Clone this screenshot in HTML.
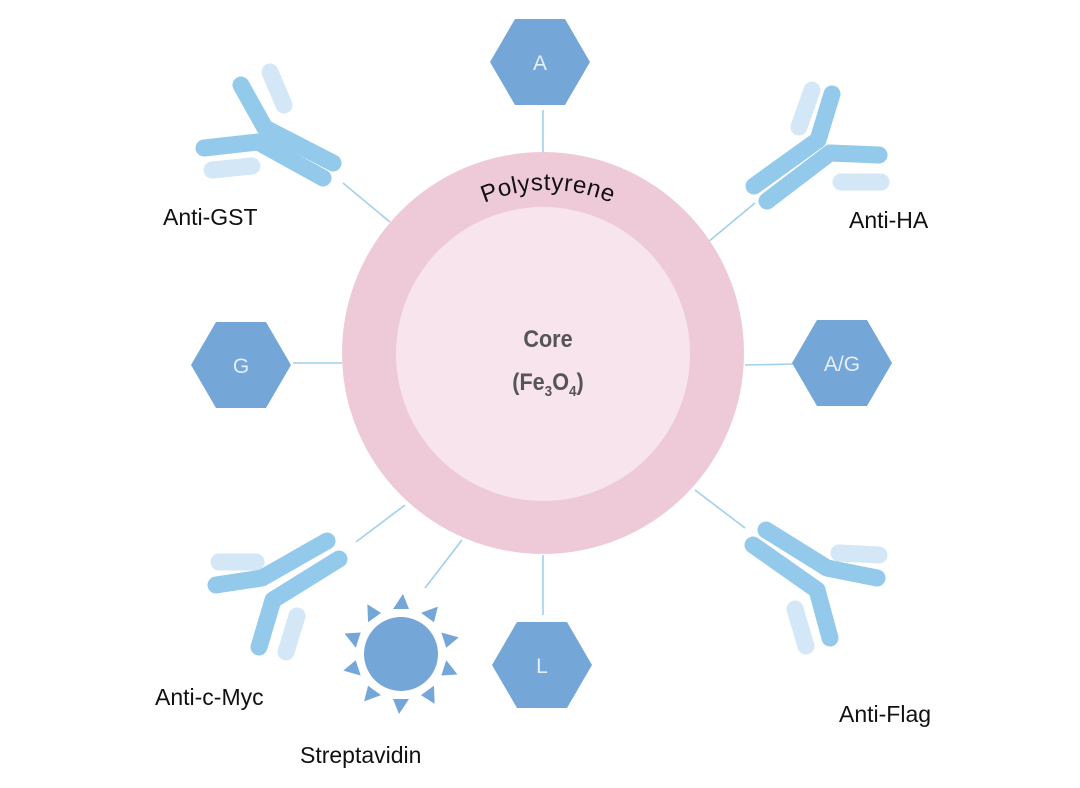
<!DOCTYPE html>
<html><head><meta charset="utf-8"><style>
html,body{margin:0;padding:0;background:#fff;}
svg{display:block;}
</style></head><body>
<svg width="1080" height="788" viewBox="0 0 1080 788" xmlns="http://www.w3.org/2000/svg">
<defs>
<path id="arc2" d="M 385 353 A 158 158 0 0 1 711 353" />
</defs>
<g stroke="#9fd0ee" stroke-width="1.6" fill="none">
<line x1="543" y1="110" x2="543" y2="152"/>
<line x1="293" y1="363" x2="342" y2="363"/>
<line x1="745" y1="365" x2="793" y2="364"/>
<line x1="543" y1="555" x2="543" y2="615"/>
<line x1="462" y1="540" x2="425" y2="588"/>
<line x1="343" y1="183" x2="390" y2="222"/>
<line x1="755" y1="203" x2="708" y2="242"/>
<line x1="695" y1="490" x2="745" y2="528"/>
<line x1="405" y1="505" x2="356" y2="542"/>
</g>
<circle cx="543" cy="353" r="201" fill="#eecad9"/>
<circle cx="543" cy="354" r="147" fill="#f7e4ec"/>
<text font-family="Liberation Sans, sans-serif" font-size="24" fill="#111" letter-spacing="0.5"><textPath href="#arc2" startOffset="50%" text-anchor="middle">Polystyrene</textPath></text>
<text x="548" y="347" text-anchor="middle" font-family="Liberation Sans, sans-serif" font-weight="bold" font-size="24" fill="#555" transform="translate(548 0) scale(0.9 1) translate(-548 0)">Core</text>
<text x="548" y="390" text-anchor="middle" font-family="Liberation Sans, sans-serif" font-weight="bold" font-size="24" fill="#555" transform="translate(548 0) scale(0.9 1) translate(-548 0)">(Fe<tspan font-size="15" dy="6">3</tspan><tspan dy="-6">O</tspan><tspan font-size="15" dy="6">4</tspan><tspan dy="-6">)</tspan></text>
<g fill="#74a6d8">
<polygon points="490,62 515,19 565,19 590,62 565,105 515,105"/>
<polygon points="191,365 216,322 266,322 291,365 266,408 216,408"/>
<polygon points="792,363 817,320 867,320 892,363 867,406 817,406"/>
<polygon points="492,665 517,622 567,622 592,665 567,708 517,708"/>
</g>
<g font-family="Liberation Sans, sans-serif" font-size="21" fill="#e6eef8" text-anchor="middle">
<text x="540" y="70">A</text>
<text x="241" y="373">G</text>
<text x="842" y="371">A/G</text>
<text x="542" y="673">L</text>
</g>
<g fill="none" stroke-linecap="round" stroke-linejoin="round" stroke-width="17">
<g stroke="#d3e7f7">
<polyline points="270,72 284,105"/><polyline points="212,170 252,166"/>
<polyline points="812,90 799,127"/><polyline points="841,182 881,182"/>
<polyline points="839,553 879,555"/><polyline points="795,609 806,646"/>
<polyline points="219,562 256,562"/><polyline points="297,616 286,652"/>
</g>
<g stroke="#93c9ea">
<polyline points="241,85 265,128 333,163"/><polyline points="204,148 258,142 323,178"/>
<polyline points="832,94 818,140 754,186"/><polyline points="879,155 830,153 767,201"/>
<polyline points="766,530 827,568 877,578"/><polyline points="753,545 817,590 830,638"/>
<polyline points="327,541 262,578 216,585"/><polyline points="339,559 273,600 259,647"/>
</g>
</g>
<g fill="#74a6d8">
<circle cx="401" cy="654" r="37"/>
<g id="sp"><polygon points="393,609 409,609 403,594"/></g>
<use href="#sp" transform="rotate(36 401 654)"/>
<use href="#sp" transform="rotate(72 401 654)"/>
<use href="#sp" transform="rotate(108 401 654)"/>
<use href="#sp" transform="rotate(144 401 654)"/>
<use href="#sp" transform="rotate(180 401 654)"/>
<use href="#sp" transform="rotate(216 401 654)"/>
<use href="#sp" transform="rotate(252 401 654)"/>
<use href="#sp" transform="rotate(288 401 654)"/>
<use href="#sp" transform="rotate(324 401 654)"/>
</g>
<g font-family="Liberation Sans, sans-serif" font-size="23" fill="#111">
<text x="163" y="225">Anti-GST</text>
<text x="849" y="228">Anti-HA</text>
<text x="155" y="705">Anti-c-Myc</text>
<text x="839" y="722">Anti-Flag</text>
<text x="300" y="763">Streptavidin</text>
</g>
</svg>
</body></html>
